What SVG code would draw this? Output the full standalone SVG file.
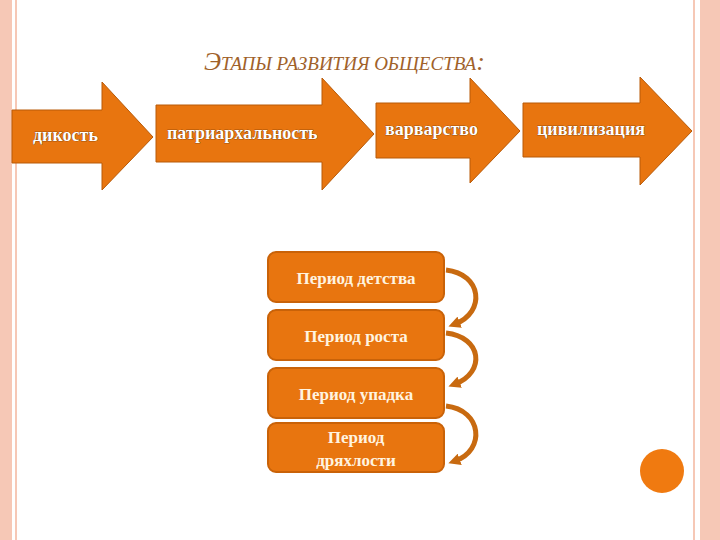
<svg xmlns="http://www.w3.org/2000/svg" width="720" height="540" viewBox="0 0 720 540">
<style>
.ar{fill:#e8750f;stroke:#b85a08;stroke-width:1}
.at{font-family:"Liberation Serif",serif;font-weight:bold;font-size:18px;fill:#fff;stroke:#5a2a00;stroke-width:0.6;paint-order:stroke}
.bx{fill:#e8750f;stroke:#c96208;stroke-width:2}
.bt{font-family:"Liberation Serif",serif;font-weight:bold;font-size:17px;fill:#fff4e0;text-anchor:middle}
.cv{fill:none;stroke:#c86a10;stroke-width:5}
</style>
<defs><marker id="h" markerWidth="12" markerHeight="12" refX="5" refY="6" orient="auto" markerUnits="userSpaceOnUse"><path d="M0,0 L12,6 L0,12 z" fill="#c86a10"/></marker></defs>
<rect width="720" height="540" fill="#fff"/>
<rect x="0" y="0" width="12" height="540" fill="#f6c8b6"/>
<line x1="16" y1="0" x2="16" y2="540" stroke="#f6c8b6" stroke-width="2"/>
<rect x="700" y="0" width="20" height="540" fill="#f6c8b6"/>
<line x1="694" y1="0" x2="694" y2="540" stroke="#f6c8b6" stroke-width="2"/>
<text x="204" y="70" font-family="Liberation Serif,serif" font-style="italic" font-size="26" fill="#a0612a">Э<tspan font-size="19">ТАПЫ РАЗВИТИЯ ОБЩЕСТВА</tspan><tspan font-size="26">:</tspan></text>
<g id="a1"><path class="ar" d="M12,110 H102 V82 L153,137 L102,190 V163 H12 Z"/><text class="at" x="33" y="141">дикость</text></g>
<g id="a2"><path class="ar" d="M156,105 H322 V78 L374,134 L322,190 V162 H156 Z"/><text class="at" x="167" y="139">патриархальность</text></g>
<g id="a3"><path class="ar" d="M376,103 H470 V78 L520,131 L470,183 V158 H376 Z"/><text class="at" x="385" y="135">варварство</text></g>
<g id="a4"><path class="ar" d="M523,103 H640 V77 L692,131 L640,185 V157 H523 Z"/><text class="at" x="537" y="135">цивилизация</text></g>
<g id="b1"><rect class="bx" x="268" y="252" width="176" height="50" rx="8"/><text class="bt" x="356" y="284">Период детства</text></g>
<g id="b2"><rect class="bx" x="268" y="310" width="176" height="50" rx="8"/><text class="bt" x="356" y="342">Период роста</text></g>
<g id="b3"><rect class="bx" x="268" y="368" width="176" height="50" rx="8"/><text class="bt" x="356" y="400">Период упадка</text></g>
<g id="b4"><rect class="bx" x="268" y="423" width="176" height="49" rx="8"/><text class="bt" x="356" y="443">Период</text><text class="bt" x="356" y="466">дряхлости</text></g>
<g id="connectors">
<path class="cv" d="M446,270 C482,274 486,312 455,324" marker-end="url(#h)"/>
<path class="cv" d="M446,333 C482,337 486,372 455,384" marker-end="url(#h)"/>
<path class="cv" d="M446,406 C482,410 486,450 455,461" marker-end="url(#h)"/>
</g>
<circle cx="662" cy="471" r="22" fill="#f07a10"/>
</svg>
